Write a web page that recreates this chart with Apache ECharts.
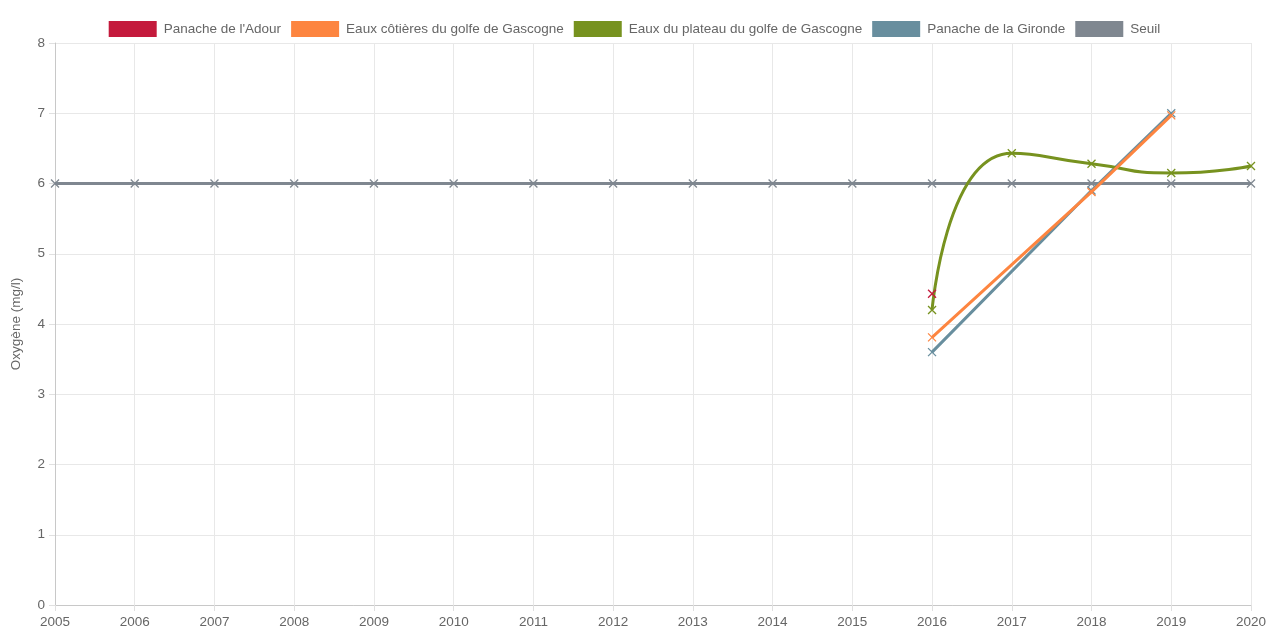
<!DOCTYPE html>
<html><head><meta charset="utf-8">
<script src="https://cdn.jsdelivr.net/npm/echarts@6/dist/echarts.min.js"></script>
<style>html,body{margin:0;padding:0;background:#fff}#c{width:1269px;height:633px}</style>
</head><body><div id="c"></div>
<script>
const years = ['2005','2006','2007','2008','2009','2010','2011','2012','2013','2014','2015','2016','2017','2018','2019','2020'];
const adour    = [null,null,null,null,null,null,null,null,null,null,null,4.43,null,null,null,null];
const cotieres = [null,null,null,null,null,null,null,null,null,null,null,3.81,null,5.88,6.97,null];
const plateau  = [null,null,null,null,null,null,null,null,null,null,null,4.2,6.43,6.28,6.15,6.25];
const gironde  = [null,null,null,null,null,null,null,null,null,null,null,3.6,null,5.9,7.0,null];
const seuil    = [6,6,6,6,6,6,6,6,6,6,6,6,6,6,6,6];
const names = ["Panache de l'Adour","Eaux côtières du golfe de Gascogne","Eaux du plateau du golfe de Gascogne","Panache de la Gironde","Seuil"];
const colors = ['#c41a3c','#fd8540','#77921f','#688e9e','#7f8790'];
const datas = [adour,cotieres,plateau,gironde,seuil];
const X = 'path://M0,0L10,10M10,0L0,10';
const FONT = 'Liberation Sans, Arial, sans-serif';
const chart = echarts.init(document.getElementById('c'));
chart.setOption({
  animation:false,
  color: colors,
  legend:{top:16,left:'center',itemWidth:48,itemHeight:16,itemGap:10,icon:'rect',
    textStyle:{color:'#666',fontSize:13.5,fontFamily:FONT,padding:[0,0,0,2]},
    itemStyle:{borderWidth:0}},
  grid:{left:55,right:11,top:43,bottom:28,containLabel:false},
  xAxis:{type:'category',data:years,boundaryGap:false,
    axisLine:{lineStyle:{color:'#c8c8c8'}},
    axisTick:{show:true,length:6,lineStyle:{color:'#e0e0e0'}},
    splitLine:{show:true,lineStyle:{color:'#e8e8e8'}},
    axisLabel:{color:'#666',fontSize:13.5,margin:10,fontFamily:FONT}},
  yAxis:{type:'value',min:0,max:8,interval:1,
    name:'Oxygène (mg/l)',nameLocation:'middle',nameGap:32,nameRotate:90,
    nameTextStyle:{color:'#666',fontSize:13.5,fontFamily:FONT},
    axisLine:{show:true,lineStyle:{color:'#c8c8c8'}},
    axisTick:{show:true,length:6,lineStyle:{color:'#e0e0e0'}},
    splitLine:{show:true,lineStyle:{color:'#e8e8e8'}},
    axisLabel:{color:'#666',fontSize:13.5,margin:10,fontFamily:FONT}},
  series: datas.map((d,i)=>({
    name:names[i],type:'line',data:d,connectNulls:true,
    smooth: i===2 ? 0.6 : false,
    symbol:X,symbolSize:8,showSymbol:true,
    lineStyle:{width:3,color:colors[i]},
    itemStyle:{color:colors[i],borderColor:colors[i],borderWidth:1.3},
    z: 10-i
  }))
});
</script></body></html>
